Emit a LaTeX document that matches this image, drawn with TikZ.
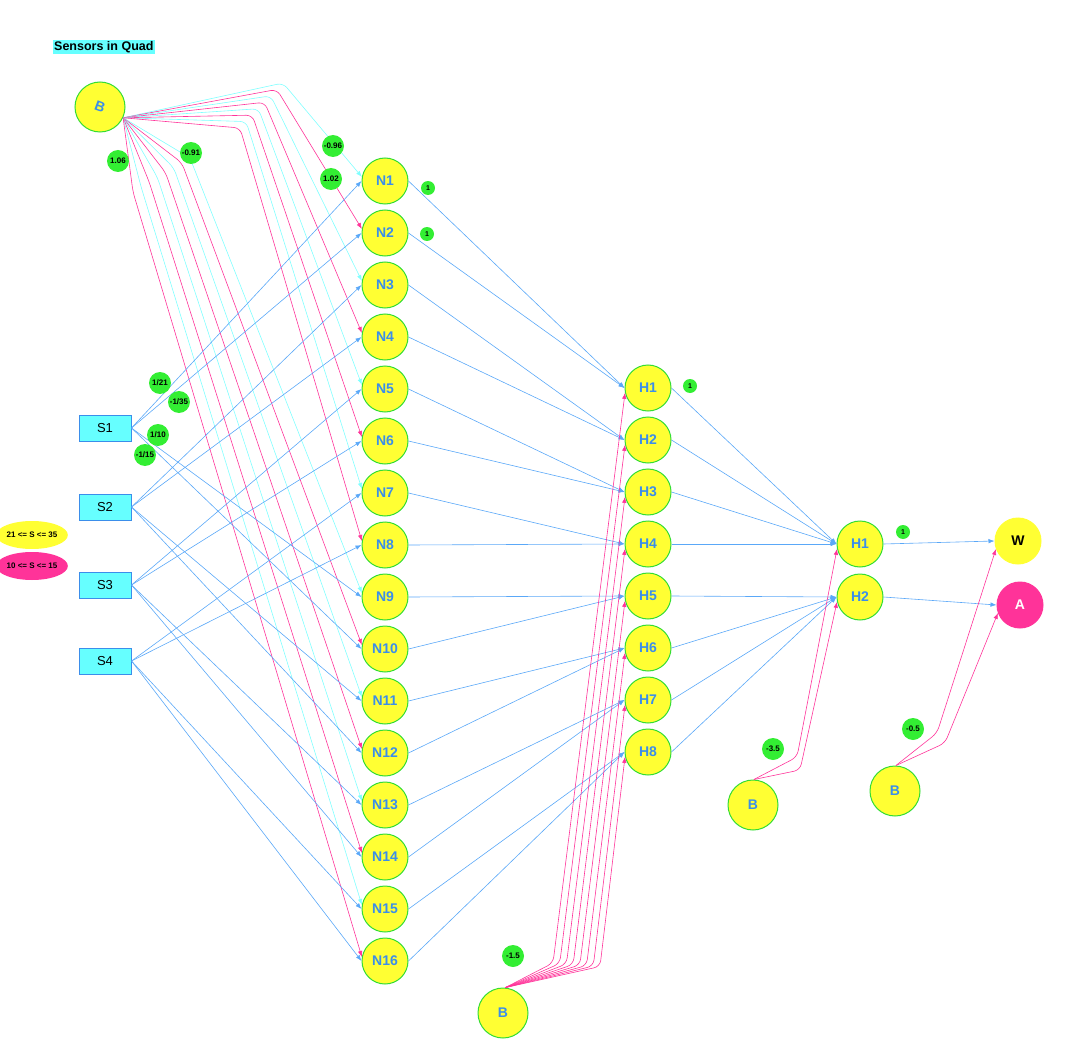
\documentclass[tikz,border=0pt]{standalone}
\usepackage{fontspec}
\setmainfont{Liberation Sans}
\usetikzlibrary{arrows.meta, shapes.geometric}
\definecolor{cellyellow}{HTML}{FFFF33}
\definecolor{cellgreen}{HTML}{33DD33}
\definecolor{cellblue}{HTML}{3B8EEA}
\definecolor{linkblue}{HTML}{5AA8F8}
\definecolor{biascyan}{HTML}{80FFFF}
\definecolor{biaspink}{HTML}{FF3399}
\definecolor{boxcyan}{HTML}{66FFFF}
\definecolor{wgreen}{HTML}{33EE33}
\tikzset{
  neuron/.style={circle, fill=cellyellow, draw=cellgreen, line width=1pt, minimum size=46pt, inner sep=0pt, text=cellblue, font=\bfseries\fontsize{14}{14}\selectfont},
  biasnode/.style={neuron, minimum size=50pt},
  sensor/.style={rectangle, fill=boxcyan, draw=cellblue, line width=1pt, minimum width=52pt, minimum height=26pt, font=\fontsize{13}{13}\selectfont},
  weight/.style={circle, fill=wgreen, inner sep=0pt, minimum size=22pt, font=\bfseries\fontsize{8}{8}\selectfont},
  unitw/.style={weight, minimum size=14pt, font=\bfseries\fontsize{7}{7}\selectfont},
  legend/.style={ellipse, minimum width=65pt, minimum height=28pt, inner sep=0pt, font=\bfseries\fontsize{8}{8}\selectfont},
  link/.style={draw=linkblue, line width=0.6pt, -{Latex[length=6pt,width=4.5pt]}},
  poslink/.style={link, draw=biaspink, rounded corners=6pt},
  neglink/.style={link, draw=biascyan, rounded corners=6pt},
}

\begin{document}
\begin{tikzpicture}[x=1pt, y=-1pt]
          \useasboundingbox (0,0) rectangle (1072,1062);
          \node[fill=boxcyan, inner sep=1pt, anchor=west, font=\bfseries\fontsize{12.5}{13}\selectfont] (title) at (53,47) {Sensors in Quad};
          \node[legend, fill=cellyellow] (lowS) at (32,535) {21 <= S <= 35};
          \node[legend, fill=biaspink] (highS) at (32,566) {10 <= S <= 15};
          % nodes
          \node[biasnode] (Btop) at (100,107) {\rotatebox{-20}{B}};
          \foreach \k/\y in {1/428, 2/507, 3/585, 4/661}
            \node[sensor] (S\k) at (105,\y) {S\k};
          \foreach \i in {1,...,16}
            \node[neuron] (N\i) at (385,{181+52*(\i-1)}) {N\i};
          \foreach \i in {1,...,8}
            \node[neuron] (H\i) at (648,{388+52*(\i-1)}) {H\i};
          \node[neuron] (O1) at (860,544) {H1};
          \node[neuron] (O2) at (860,597) {H2};
          \node[neuron, draw=cellyellow, text=black] (W) at (1018,541) {W};
          \node[neuron, fill=biaspink, draw=biaspink, text=white] (A) at (1020,605) {A};
          \node[biasnode] (Bh) at (503,1013) {B};
          \node[biasnode] (Bo) at (753,805) {B};
          \node[biasnode] (Bw) at (895,791) {B};
          % bias into first layer
          \foreach \i in {1,...,16}{
            \pgfmathsetmacro\cx{\i<9 ? 283-(\i-1)*43/7 : 190-(\i-9)*57/7}
            \pgfmathsetmacro\cy{\i<9 ? 83+(\i-1)*45/7 : 158+(\i-9)*34/7}
            \ifodd\i\relax \def\tone{neglink}\else \def\tone{poslink}\fi
            \draw[\tone] (Btop.-25) -- (\cx,\cy) -- (N\i.170);
          }
          % sensors into first layer
          \foreach \k/\n in {1/1, 1/2, 1/9, 1/10, 2/3, 2/4, 2/11, 2/12, 3/5, 3/6, 3/13, 3/14, 4/7, 4/8, 4/15, 4/16}
            \draw[link] (S\k.east) -- (N\n.west);
          \foreach \i in {1,...,16}{
            \pgfmathtruncatemacro\h{(\i+1)/2}
            \draw[link] (N\i.east) -- (H\h.west);
          }
          \foreach \i in {1,...,8}{
            \pgfmathtruncatemacro\o{(\i+3)/4}
            \draw[link] (H\i.east) -- (O\o.west);
            \draw[poslink] (Bh.85) -- ({553+(\i-1)*47/7},{963+(\i-1)*0.5}) -- (H\i.192);
          }
          \draw[poslink] (Bo.88) -- (797,757) -- (O1.192);
          \draw[poslink] (Bo.88) -- (800,770) -- (O2.192);
          \draw[link] (O1.east) -- (W.west);
          \draw[link] (O2.east) -- (A.west);
          \draw[poslink] (Bw.88) -- (937,733) -- (W.200);
          \draw[poslink] (Bw.88) -- (945,743) -- (A.200);
          % weights
          \node[weight] (w1) at (118,161) {1.06};
          \node[weight] (w2) at (191,153) {-0.91};
          \node[weight] (w3) at (333,146) {-0.96};
          \node[weight] (w4) at (331,179) {1.02};
          \node[weight] (w5) at (160,383) {1/21};
          \node[weight] (w6) at (179,402) {-1/35};
          \node[weight] (w7) at (158,435) {1/10};
          \node[weight] (w8) at (145,455) {-1/15};
          \node[weight] (w9) at (513,956) {-1.5};
          \node[weight] (w10) at (773,749) {-3.5};
          \node[weight] (w11) at (913,729) {-0.5};
          \node[unitw] (u1) at (428,188) {1};
          \node[unitw] (u2) at (427,234) {1};
          \node[unitw] (u3) at (690,386) {1};
          \node[unitw] (u4) at (903,532) {1};
\end{tikzpicture}
\end{document}
